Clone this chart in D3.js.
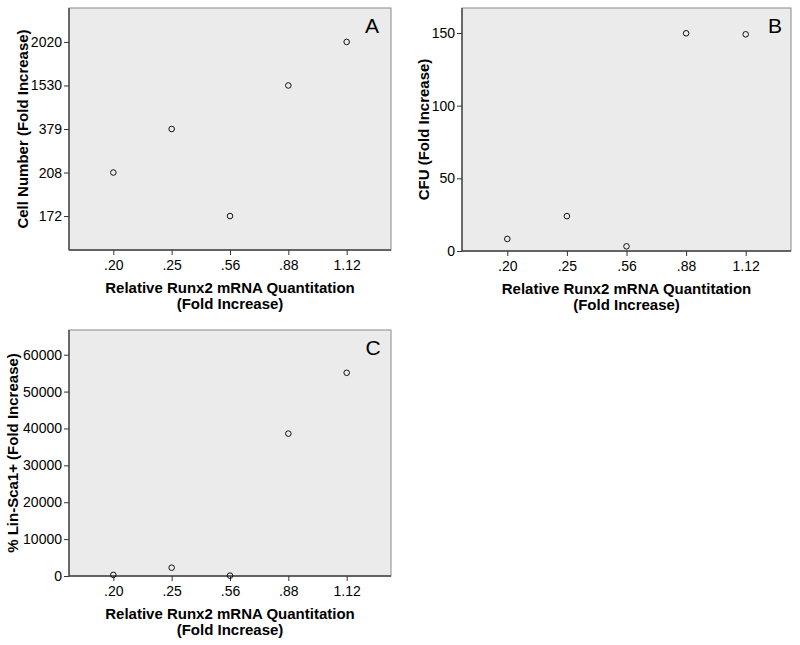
<!DOCTYPE html>
<html><head><meta charset="utf-8">
<script src="https://cdn.jsdelivr.net/npm/d3@7"></script>
<style>body{margin:0;background:#fff;}svg{display:block;font-family:"Liberation Sans",Arial,sans-serif;}</style>
</head><body>
<svg id="c" width="800" height="645"></svg>
<script>
const xCategories = [".20", ".25", ".56", ".88", "1.12"];
const cellNumberA = ["208", "379", "172", "1530", "2020"];
const yCategoriesA = ["172", "208", "379", "1530", "2020"];
const cfuB = [8.3, 24, 3.2, 149.8, 149.1];
const yTicksB = [0, 50, 100, 150];
const linScaC = [300, 2250, 100, 38600, 55100];
const yTicksC = [0, 10000, 20000, 30000, 40000, 50000, 60000];
const xTitle = ["Relative Runx2 mRNA Quantitation", "(Fold Increase)"];

const svg = d3.select("#c");

function panel(cfg) {
  const g = svg.append("g");
  const {left, right, top, bottom} = cfg;
  g.append("rect").attr("x", left).attr("y", top).attr("width", right - left).attr("height", bottom - top)
    .attr("fill", "#ebebeb").attr("stroke", "#8a8a8a").attr("stroke-width", 1);
  const x = d3.scalePoint().domain(xCategories).range([left, right]).padding(cfg.xPad);
  const y = cfg.y;
  const xa = g.append("g").attr("transform", `translate(0,${bottom})`)
    .call(d3.axisBottom(x).tickSizeOuter(0).tickSizeInner(5).tickPadding(5));
  const ya = g.append("g").attr("transform", `translate(${left},0)`)
    .call(cfg.yAxis(d3.axisLeft(y)).tickSizeOuter(0).tickSizeInner(5).tickPadding(2));
  [xa, ya].forEach(a => {
    a.selectAll("path.domain").attr("stroke", "#444").attr("stroke-width", 1.4);
    a.selectAll(".tick line").attr("stroke", "#333");
    a.selectAll(".tick text").attr("fill", "#000").style("font-size", "14px").style("font-family", '"Liberation Sans",Arial,sans-serif');
  });
  xa.select("path.domain").attr("d", `M${left},0H${right}`);
  ya.select("path.domain").attr("d", `M0,${top}V${bottom}`);
  g.append("g").selectAll("circle").data(cfg.values).join("circle")
    .attr("cx", (d, i) => x(xCategories[i]))
    .attr("cy", d => y(d))
    .attr("r", 2.8).attr("fill", "none").attr("stroke", "#111").attr("stroke-width", 1);
  const cx = (left + right) / 2;
  g.append("text").attr("x", cx).attr("y", bottom + 43).attr("text-anchor", "middle")
    .style("font-size", "15px").style("font-weight", "bold").text(xTitle[0]);
  g.append("text").attr("x", cx).attr("y", bottom + 59).attr("text-anchor", "middle")
    .style("font-size", "15px").style("font-weight", "bold").text(xTitle[1]);
  g.append("text").attr("transform", `translate(${cfg.yTitleX},${(top + bottom) / 2}) rotate(-90)`)
    .attr("text-anchor", "middle").style("font-size", "15px").style("font-weight", "bold").text(cfg.yTitle);
  g.append("text").attr("x", cfg.labelX).attr("y", top + 25).attr("text-anchor", "middle")
    .style("font-size", "21px").text(cfg.label);
}

panel({
  left: 69, right: 391, top: 8, bottom: 250, xPad: 0.76,
  y: d3.scalePoint().domain(yCategoriesA).range([250, 8]).padding(0.78),
  yAxis: a => a,
  values: cellNumberA,
  yTitle: "Cell Number (Fold Increase)", yTitleX: 28, label: "A", labelX: 372
});

panel({
  left: 462, right: 791, top: 8, bottom: 251, xPad: 0.76,
  y: d3.scaleLinear().domain([0, 167.2]).range([251, 8]),
  yAxis: a => a.tickValues(yTicksB).tickFormat(d3.format("d")),
  values: cfuB,
  yTitle: "CFU (Fold Increase)", yTitleX: 429, label: "B", labelX: 775
});

panel({
  left: 69, right: 391, top: 330, bottom: 576, xPad: 0.76,
  y: d3.scaleLinear().domain([0, 66700]).range([576, 330]),
  yAxis: a => a.tickValues(yTicksC).tickFormat(d3.format("d")),
  values: linScaC,
  yTitle: "% Lin-Sca1+ (Fold Increase)", yTitleX: 18, label: "C", labelX: 373
});
</script>
</body></html>
